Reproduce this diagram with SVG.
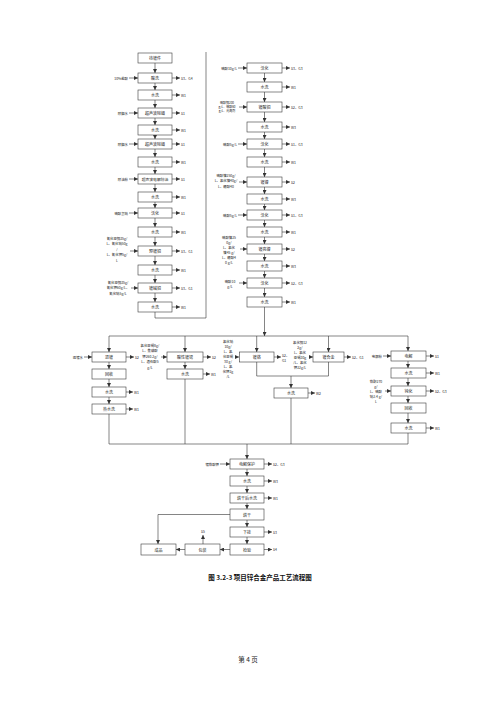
<svg xmlns="http://www.w3.org/2000/svg" width="500" height="707" viewBox="0 0 500 707">
<defs>
<marker id="ar" viewBox="0 0 6 6" refX="6" refY="3" markerWidth="4" markerHeight="4" orient="auto" markerUnits="userSpaceOnUse"><path d="M0,0 L6,3 L0,6 z" fill="#333"/></marker>
<style>
.b{fill:#fff;stroke:#3a3a3a;stroke-width:0.6}
.t{font-family:"Noto Sans CJK SC","Noto Sans",sans-serif;font-size:4px;fill:#222;text-anchor:middle;dominant-baseline:central}
.l{font-family:"Noto Sans CJK SC","Noto Sans",sans-serif;font-size:3.4px;fill:#222;dominant-baseline:central}
.e{text-anchor:end}
.m{text-anchor:middle}
.cap{font-family:"Noto Sans CJK SC",sans-serif;font-size:6.5px;font-weight:bold;fill:#111;text-anchor:middle}
.pg{font-family:"Noto Sans CJK SC",sans-serif;font-size:6.5px;fill:#222;text-anchor:middle}
.c path,.c line{stroke:#333;stroke-width:0.6;fill:none}
.a{marker-end:url(#ar)}
</style>
</defs>
<rect width="500" height="707" fill="#fff"/>

<!-- connectors -->
<g class="c" id="connectors">
<!-- left column vertical flow -->
<line class="a" x1="155" y1="63" x2="155" y2="73"/>
<line class="a" x1="155" y1="83" x2="155" y2="90"/>
<line class="a" x1="155" y1="100" x2="155" y2="108"/>
<line class="a" x1="155" y1="118" x2="155" y2="125"/>
<line class="a" x1="155" y1="135" x2="155" y2="139"/>
<line class="a" x1="155" y1="149" x2="155" y2="157"/>
<line class="a" x1="155" y1="167" x2="155" y2="174"/>
<line class="a" x1="155" y1="184" x2="155" y2="192"/>
<line class="a" x1="155" y1="202" x2="155" y2="208"/>
<line class="a" x1="155" y1="218" x2="155" y2="227"/>
<line class="a" x1="155" y1="237" x2="155" y2="246"/>
<line class="a" x1="155" y1="256" x2="155" y2="265"/>
<line class="a" x1="155" y1="275" x2="155" y2="283"/>
<line class="a" x1="155" y1="293" x2="155" y2="302"/>
<path d="M155,312 V318 H206 V52"/>
<!-- left outputs -->
<line class="a" x1="172" y1="78" x2="180" y2="78"/>
<line class="a" x1="172" y1="95" x2="180" y2="95"/>
<line class="a" x1="172" y1="113" x2="180" y2="113"/>
<line class="a" x1="172" y1="130" x2="180" y2="130"/>
<line class="a" x1="172" y1="144" x2="180" y2="144"/>
<line class="a" x1="172" y1="162" x2="180" y2="162"/>
<line class="a" x1="172" y1="179" x2="180" y2="179"/>
<line class="a" x1="172" y1="197" x2="180" y2="197"/>
<line class="a" x1="172" y1="213" x2="180" y2="213"/>
<line class="a" x1="172" y1="232" x2="180" y2="232"/>
<line class="a" x1="172" y1="251" x2="180" y2="251"/>
<line class="a" x1="172" y1="270" x2="180" y2="270"/>
<line class="a" x1="172" y1="288" x2="180" y2="288"/>
<line class="a" x1="172" y1="307" x2="180" y2="307"/>
<!-- left inputs -->
<line class="a" x1="129" y1="78" x2="138" y2="78"/>
<line class="a" x1="129" y1="113" x2="138" y2="113"/>
<line class="a" x1="129" y1="144" x2="138" y2="144"/>
<line class="a" x1="129" y1="179" x2="138" y2="179"/>
<line class="a" x1="129" y1="213" x2="138" y2="213"/>
<line class="a" x1="130" y1="251" x2="138" y2="251"/>
<line class="a" x1="131" y1="288" x2="138" y2="288"/>

<!-- right column vertical flow -->
<line class="a" x1="264.5" y1="73" x2="264.5" y2="82"/>
<line class="a" x1="264.5" y1="92" x2="264.5" y2="102"/>
<line class="a" x1="264.5" y1="112" x2="264.5" y2="122"/>
<line class="a" x1="264.5" y1="132" x2="264.5" y2="139"/>
<line class="a" x1="264.5" y1="149" x2="264.5" y2="157"/>
<line class="a" x1="264.5" y1="167" x2="264.5" y2="177"/>
<line class="a" x1="264.5" y1="187" x2="264.5" y2="194"/>
<line class="a" x1="264.5" y1="204" x2="264.5" y2="210"/>
<line class="a" x1="264.5" y1="220" x2="264.5" y2="227"/>
<line class="a" x1="264.5" y1="237" x2="264.5" y2="244"/>
<line class="a" x1="264.5" y1="254" x2="264.5" y2="261"/>
<line class="a" x1="264.5" y1="271" x2="264.5" y2="278"/>
<line class="a" x1="264.5" y1="288" x2="264.5" y2="297"/>
<line class="a" x1="264.5" y1="307" x2="264.5" y2="336"/>
<!-- right outputs -->
<line class="a" x1="282" y1="68" x2="290" y2="68"/>
<line class="a" x1="282" y1="87" x2="290" y2="87"/>
<line class="a" x1="282" y1="107" x2="290" y2="107"/>
<line class="a" x1="282" y1="127" x2="290" y2="127"/>
<line class="a" x1="282" y1="144" x2="290" y2="144"/>
<line class="a" x1="282" y1="162" x2="290" y2="162"/>
<line class="a" x1="282" y1="182" x2="290" y2="182"/>
<line class="a" x1="282" y1="199" x2="290" y2="199"/>
<line class="a" x1="282" y1="215" x2="290" y2="215"/>
<line class="a" x1="282" y1="232" x2="290" y2="232"/>
<line class="a" x1="282" y1="249" x2="290" y2="249"/>
<line class="a" x1="282" y1="266" x2="290" y2="266"/>
<line class="a" x1="282" y1="283" x2="290" y2="283"/>
<line class="a" x1="282" y1="302" x2="290" y2="302"/>
<!-- right inputs -->
<line class="a" x1="238" y1="68" x2="247" y2="68"/>
<line class="a" x1="239" y1="107" x2="247" y2="107"/>
<line class="a" x1="238" y1="144" x2="247" y2="144"/>
<line class="a" x1="239" y1="182" x2="247" y2="182"/>
<line class="a" x1="238" y1="215" x2="247" y2="215"/>
<line class="a" x1="240" y1="249" x2="247" y2="249"/>
<line class="a" x1="239" y1="283" x2="247" y2="283"/>

<!-- distribution line -->
<line x1="109" y1="336" x2="408" y2="336"/>
<line class="a" x1="109" y1="336" x2="109" y2="352"/>
<line class="a" x1="185" y1="336" x2="185" y2="352"/>
<line class="a" x1="256.7" y1="336" x2="256.7" y2="352"/>
<line class="a" x1="328.5" y1="336" x2="328.5" y2="352"/>
<line class="a" x1="408" y1="336" x2="408" y2="351"/>

<!-- branch 1 -->
<line class="a" x1="84" y1="357" x2="92" y2="357"/>
<line class="a" x1="126" y1="357" x2="134" y2="357"/>
<line class="a" x1="109" y1="362" x2="109" y2="369"/>
<line class="a" x1="109" y1="379" x2="109" y2="387"/>
<line class="a" x1="109" y1="397" x2="109" y2="404"/>
<line class="a" x1="126" y1="392" x2="133" y2="392"/>
<line class="a" x1="126" y1="409" x2="133" y2="409"/>
<line x1="109" y1="414" x2="109" y2="444"/>
<!-- branch 2 -->
<line class="a" x1="161" y1="357" x2="167" y2="357"/>
<line class="a" x1="203" y1="357" x2="211" y2="357"/>
<line class="a" x1="185" y1="362" x2="185" y2="369"/>
<line class="a" x1="203" y1="374" x2="210" y2="374"/>
<line x1="185" y1="379" x2="185" y2="444"/>
<!-- branch 3/4 -->
<line class="a" x1="236" y1="357" x2="239" y2="357"/>
<line class="a" x1="274" y1="357" x2="281" y2="357"/>
<line class="a" x1="309" y1="357" x2="313" y2="357"/>
<line class="a" x1="344" y1="357" x2="351" y2="357"/>
<path d="M256.7,362 V376 H328.5 V362"/>
<line class="a" x1="291" y1="376" x2="291" y2="388"/>
<line class="a" x1="308" y1="393" x2="315" y2="393"/>
<line x1="291" y1="398" x2="291" y2="444"/>
<!-- branch 5 -->
<line class="a" x1="383" y1="356" x2="391" y2="356"/>
<line class="a" x1="426" y1="356" x2="434" y2="356"/>
<line class="a" x1="408" y1="361" x2="408" y2="368"/>
<line class="a" x1="426" y1="373" x2="434" y2="373"/>
<line class="a" x1="408" y1="378" x2="408" y2="386"/>
<line class="a" x1="385" y1="391" x2="391" y2="391"/>
<line class="a" x1="426" y1="391" x2="434" y2="391"/>
<line class="a" x1="408" y1="396" x2="408" y2="403"/>
<line class="a" x1="408" y1="413" x2="408" y2="423"/>
<line class="a" x1="426" y1="428" x2="434" y2="428"/>
<line x1="408" y1="433" x2="408" y2="444"/>

<!-- collector -->
<line x1="109" y1="444" x2="408" y2="444"/>
<line class="a" x1="247" y1="444" x2="247" y2="459"/>
<line class="a" x1="220" y1="464" x2="230" y2="464"/>
<line class="a" x1="264" y1="464" x2="272" y2="464"/>
<line class="a" x1="247" y1="469" x2="247" y2="476"/>
<line class="a" x1="264" y1="481" x2="272" y2="481"/>
<line class="a" x1="247" y1="486" x2="247" y2="493"/>
<line class="a" x1="264" y1="498" x2="272" y2="498"/>
<line class="a" x1="247" y1="503" x2="247" y2="509"/>
<line class="a" x1="247" y1="520" x2="247" y2="527"/>
<line class="a" x1="264" y1="532" x2="272" y2="532"/>
<line class="a" x1="247" y1="537" x2="247" y2="544"/>
<line class="a" x1="264" y1="549.5" x2="272" y2="549.5"/>
<path class="a" d="M230,514.5 H158 V544"/>
<line class="a" x1="230" y1="549.5" x2="220" y2="549.5"/>
<line class="a" x1="185" y1="549.5" x2="176" y2="549.5"/>
<line class="a" x1="203" y1="544" x2="203" y2="535"/>
</g>

<!-- left column nodes -->
<g id="L1"><rect class="b" x="138" y="53" width="34" height="10"/><text class="t" x="155" y="58">待镀件</text></g>
<g id="L2"><rect class="b" x="138" y="73" width="34" height="10"/><text class="t" x="155" y="78">酸洗</text><text class="l e" x="128" y="78">10%盐酸</text><text class="l" x="181" y="78">S3、G4</text></g>
<g id="L3"><rect class="b" x="138" y="90" width="34" height="10"/><text class="t" x="155" y="95">水洗</text><text class="l" x="181" y="95">W1</text></g>
<g id="L4"><rect class="b" x="138" y="108" width="34" height="10"/><text class="t" x="155" y="113">超声波除蜡</text><text class="l e" x="128" y="113">除蜡水</text><text class="l" x="181" y="113">S1</text></g>
<g id="L5"><rect class="b" x="138" y="125" width="34" height="10"/><text class="t" x="155" y="130">水洗</text><text class="l" x="181" y="130">W1</text></g>
<g id="L6"><rect class="b" x="138" y="139" width="34" height="10"/><text class="t" x="155" y="144">超声波除蜡</text><text class="l e" x="128" y="144">除蜡水</text><text class="l" x="181" y="144">S1</text></g>
<g id="L7"><rect class="b" x="138" y="157" width="34" height="10"/><text class="t" x="155" y="162">水洗</text><text class="l" x="181" y="162">W1</text></g>
<g id="L8"><rect class="b" x="138" y="174" width="34" height="10"/><text class="t" x="155" y="179" style="font-size:3.8px">超声波电解除油</text><text class="l e" x="128" y="179">除油粉</text><text class="l" x="181" y="179">S1</text></g>
<g id="L9"><rect class="b" x="138" y="192" width="34" height="10"/><text class="t" x="155" y="197">水洗</text><text class="l" x="181" y="197">W1</text></g>
<g id="L10"><rect class="b" x="138" y="208" width="34" height="10"/><text class="t" x="155" y="213">活化</text><text class="l e" x="128" y="213">硫酸氢钠</text><text class="l" x="181" y="213">S1</text></g>
<g id="L11"><rect class="b" x="138" y="227" width="34" height="10"/><text class="t" x="155" y="232">水洗</text><text class="l" x="181" y="232">W1</text></g>
<g id="L12"><rect class="b" x="138" y="246" width="34" height="10"/><text class="t" x="155" y="251">预镀铜</text><text class="l" x="181" y="251">S3、G1</text>
<text class="l m" x="117" y="238">氰化亚铜35g/</text><text class="l m" x="117" y="243.5">L、氰化钠50g</text><text class="l m" x="117" y="249">/</text><text class="l m" x="117" y="254.5">L、氰化钾5g/</text><text class="l m" x="117" y="260">L</text></g>
<g id="L13"><rect class="b" x="138" y="265" width="34" height="10"/><text class="t" x="155" y="270">水洗</text><text class="l" x="181" y="270">W1</text></g>
<g id="L14"><rect class="b" x="138" y="283" width="34" height="10"/><text class="t" x="155" y="288">镀碱铜</text><text class="l" x="181" y="288">S3、G1</text>
<text class="l m" x="118" y="282">氰化亚铜35g/</text><text class="l m" x="118" y="287.5">氰化钾60g/L、</text><text class="l m" x="118" y="293">氰化钠5g/L</text></g>
<g id="L15"><rect class="b" x="138" y="302" width="34" height="10"/><text class="t" x="155" y="307">水洗</text><text class="l" x="181" y="307">W1</text></g>

<!-- right column nodes -->
<g id="R1"><rect class="b" x="247" y="63" width="35" height="10"/><text class="t" x="264.5" y="68">活化</text><text class="l e" x="237" y="68">硫酸10g/L</text><text class="l" x="291" y="68">S3、G3</text></g>
<g id="R2"><rect class="b" x="247" y="82" width="35" height="10"/><text class="t" x="264.5" y="87">水洗</text><text class="l" x="291" y="87">W1</text></g>
<g id="R3"><rect class="b" x="247" y="102" width="35" height="10"/><text class="t" x="264.5" y="107">镀酸铜</text><text class="l" x="291" y="107">S2、G3</text>
<text class="l m" x="227" y="103" style="font-size:3px">硫酸铜200</text><text class="l m" x="227" y="107" style="font-size:3px">g/L、硫酸60</text><text class="l m" x="227" y="111" style="font-size:3px">g/L、光亮剂</text></g>
<g id="R4"><rect class="b" x="247" y="122" width="35" height="10"/><text class="t" x="264.5" y="127">水洗</text><text class="l" x="291" y="127">W3</text></g>
<g id="R5"><rect class="b" x="247" y="139" width="35" height="10"/><text class="t" x="264.5" y="144">活化</text><text class="l e" x="237" y="144">硫酸5g/L</text><text class="l" x="291" y="144">S1、G3</text></g>
<g id="R6"><rect class="b" x="247" y="157" width="35" height="10"/><text class="t" x="264.5" y="162">水洗</text><text class="l" x="291" y="162">W1</text></g>
<g id="R7"><rect class="b" x="247" y="177" width="35" height="10"/><text class="t" x="264.5" y="182">镀镍</text><text class="l" x="291" y="182">S2</text>
<text class="l m" x="226" y="175">硫酸镍250g/</text><text class="l m" x="226" y="180.5">L、氯化镍40g/</text><text class="l m" x="226" y="186">L、硼酸40</text></g>
<g id="R8"><rect class="b" x="247" y="194" width="35" height="10"/><text class="t" x="264.5" y="199">水洗</text><text class="l" x="291" y="199">W3</text></g>
<g id="R9"><rect class="b" x="247" y="210" width="35" height="10"/><text class="t" x="264.5" y="215">活化</text><text class="l e" x="237" y="215">硫酸5g/L</text><text class="l" x="291" y="215">S1、G3</text></g>
<g id="R10"><rect class="b" x="247" y="227" width="35" height="10"/><text class="t" x="264.5" y="232">水洗</text><text class="l" x="291" y="232">W1</text></g>
<g id="R11"><rect class="b" x="247" y="244" width="35" height="10"/><text class="t" x="264.5" y="249">镀亮镍</text><text class="l" x="291" y="249">S2</text>
<text class="l m" x="229" y="237">硫酸镍25</text><text class="l m" x="229" y="242">0g/</text><text class="l m" x="229" y="247">L、氯化</text><text class="l m" x="229" y="252">镍45 g/</text><text class="l m" x="229" y="257">L、硼酸4</text><text class="l m" x="229" y="262">0 g/L</text></g>
<g id="R12"><rect class="b" x="247" y="261" width="35" height="10"/><text class="t" x="264.5" y="266">水洗</text><text class="l" x="291" y="266">W3</text></g>
<g id="R13"><rect class="b" x="247" y="278" width="35" height="10"/><text class="t" x="264.5" y="283">活化</text><text class="l" x="291" y="283">S2、G3</text>
<text class="l m" x="230" y="281">硫酸10</text><text class="l m" x="230" y="286">g/L</text></g>
<g id="R14"><rect class="b" x="247" y="297" width="35" height="10"/><text class="t" x="264.5" y="302">水洗</text><text class="l" x="291" y="302">W1</text></g>

<!-- middle branches -->
<g id="M1"><rect class="b" x="92" y="352" width="34" height="10"/><text class="t" x="109" y="357">退镀</text><text class="l e" x="83" y="357">退镀水</text><text class="l" x="135" y="357">S2</text></g>
<g id="M2"><rect class="b" x="92" y="369" width="34" height="10"/><text class="t" x="109" y="374">回收</text></g>
<g id="M3"><rect class="b" x="92" y="387" width="34" height="10"/><text class="t" x="109" y="392">水洗</text><text class="l" x="134" y="392">W1</text></g>
<g id="M4"><rect class="b" x="92" y="404" width="34" height="10"/><text class="t" x="109" y="409">热水洗</text><text class="l" x="134" y="409">W1</text></g>

<g id="M5"><rect class="b" x="167" y="352" width="36" height="10"/><text class="t" x="185" y="357">酸性镀锡</text><text class="l" x="212" y="357">S2</text>
<text class="l m" x="150" y="345">氯化亚锡8g/</text><text class="l m" x="150" y="350.5">L、焦磷酸</text><text class="l m" x="150" y="356">钾260.2g/</text><text class="l m" x="150" y="361.5">L、酒石酸5</text><text class="l m" x="150" y="367">g/L</text></g>
<g id="M6"><rect class="b" x="167" y="369" width="36" height="10"/><text class="t" x="185" y="374">水洗</text><text class="l" x="211" y="374">W1</text></g>

<g id="M7"><rect class="b" x="239.3" y="352" width="34.7" height="10"/><text class="t" x="256.7" y="357">镀铬</text><text class="l" x="282" y="355">S2、</text><text class="l" x="282" y="360">G1</text>
<text class="l m" x="228" y="341">氯化钠</text><text class="l m" x="228" y="346">10g/</text><text class="l m" x="228" y="351">L、氯</text><text class="l m" x="228" y="356">化亚锡</text><text class="l m" x="228" y="361">30 g/</text><text class="l m" x="228" y="366">L、氯</text><text class="l m" x="228" y="371">化钾2g</text><text class="l m" x="228" y="376">/L</text></g>
<g id="M8"><rect class="b" x="274" y="388" width="34" height="10"/><text class="t" x="291" y="393">水洗</text><text class="l" x="316" y="393">W2</text></g>

<g id="M9"><rect class="b" x="313" y="352" width="31" height="10"/><text class="t" x="328.5" y="357">镀合金</text><text class="l" x="352" y="357">S2、G1</text>
<text class="l m" x="300" y="342">氯化铜12</text><text class="l m" x="300" y="347">2g/</text><text class="l m" x="300" y="352">L、氯化</text><text class="l m" x="300" y="357">亚锡30g</text><text class="l m" x="300" y="362">/L、氯化</text><text class="l m" x="300" y="367">钾22g/L</text></g>

<g id="M10"><rect class="b" x="391" y="351" width="35" height="10"/><text class="t" x="408.5" y="356">电解</text><text class="l e" x="382" y="356">电解粉</text><text class="l" x="435" y="356">S1</text></g>
<g id="M11"><rect class="b" x="391" y="368" width="35" height="10"/><text class="t" x="408.5" y="373">水洗</text><text class="l" x="435" y="373">W1</text></g>
<g id="M12"><rect class="b" x="391" y="386" width="35" height="10"/><text class="t" x="408.5" y="391">钝化</text><text class="l" x="435" y="391">S2、G3</text>
<text class="l m" x="376" y="381">铬酐270</text><text class="l m" x="376" y="386">g/</text><text class="l m" x="376" y="391">L、硫酸</text><text class="l m" x="376" y="396">钠2.4 g/</text><text class="l m" x="376" y="401">L</text></g>
<g id="M13"><rect class="b" x="391" y="403" width="35" height="10"/><text class="t" x="408.5" y="408">回收</text></g>
<g id="M14"><rect class="b" x="391" y="423" width="35" height="10"/><text class="t" x="408.5" y="428">水洗</text><text class="l" x="435" y="428">W1</text></g>

<!-- bottom nodes -->
<g id="B1"><rect class="b" x="230" y="459" width="34" height="10"/><text class="t" x="247" y="464">电解保护</text><text class="l e" x="219" y="464">镀铬酸钾</text><text class="l" x="273" y="464">S2、G3</text></g>
<g id="B2"><rect class="b" x="230" y="476" width="34" height="10"/><text class="t" x="247" y="481">水洗</text><text class="l" x="273" y="481">W3</text></g>
<g id="B3"><rect class="b" x="230" y="493" width="34" height="10"/><text class="t" x="247" y="498">烘干后水洗</text><text class="l" x="273" y="498">W1</text></g>
<g id="B4"><rect class="b" x="230" y="509" width="34" height="11"/><text class="t" x="247" y="514.5">烘干</text></g>
<g id="B5"><rect class="b" x="230" y="527" width="34" height="10"/><text class="t" x="247" y="532">下挂</text><text class="l" x="273" y="532">S3</text></g>
<g id="B6"><rect class="b" x="230" y="544" width="34" height="11"/><text class="t" x="247" y="549.5">检验</text><text class="l" x="273" y="549.5">S4</text></g>
<g id="B7"><rect class="b" x="185" y="544" width="35" height="11"/><text class="t" x="202.5" y="549.5">包装</text><text class="l m" x="203" y="531">S5</text></g>
<g id="B8"><rect class="b" x="141" y="544" width="35" height="11"/><text class="t" x="158.5" y="549.5">成品</text></g>

<text class="cap" x="260" y="580">图 3.2-3  项目锌合金产品工艺流程图</text>
<text class="pg" x="248" y="662">第 4 页</text>
</svg>
